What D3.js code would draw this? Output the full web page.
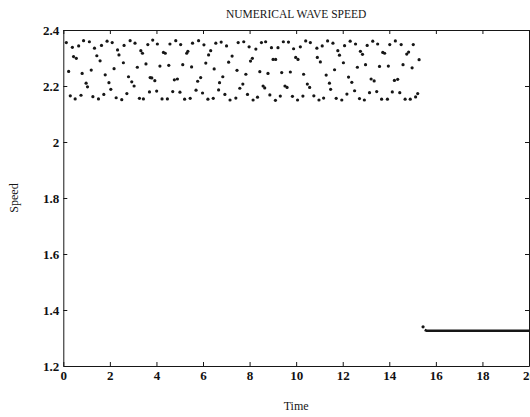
<!DOCTYPE html>
<html>
<head>
<meta charset="utf-8">
<script src="https://cdn.jsdelivr.net/npm/d3@7"></script>
<style>
  html, body { margin: 0; padding: 0; background: #fff; overflow: hidden; }
  svg { display: block; font-family: "Liberation Serif", "DejaVu Serif", serif; }
  .tick text { font-size: 13px; font-weight: bold; fill: #111; }
</style>
</head>
<body>
<div id="chart"></div>
<script>
// tick values on each axis
const xTicks = [0, 2, 4, 6, 8, 10, 12, 14, 16, 18, 20];
const yTicks = [1.2, 1.4, 1.6, 1.8, 2, 2.2, 2.4];

// [time, speed] samples while the numerical speed oscillates
const oscillation = [
  [0.13, 2.355], [0.23, 2.252], [0.30, 2.165], [0.39, 2.338], [0.44, 2.305], [0.51, 2.154],
  [0.56, 2.299], [0.66, 2.343], [0.76, 2.167], [0.81, 2.245], [0.87, 2.362], [0.98, 2.210],
  [1.04, 2.197], [1.12, 2.358], [1.20, 2.257], [1.27, 2.162], [1.34, 2.335], [1.44, 2.308],
  [1.51, 2.154], [1.58, 2.290], [1.64, 2.345], [1.74, 2.170], [1.80, 2.240], [1.88, 2.360],
  [1.96, 2.212], [2.04, 2.188], [2.10, 2.355], [2.18, 2.262], [2.27, 2.158], [2.33, 2.329],
  [2.39, 2.311], [2.51, 2.151], [2.58, 2.283], [2.61, 2.345], [2.73, 2.173], [2.80, 2.233],
  [2.87, 2.362], [2.94, 2.215], [3.04, 2.200], [3.08, 2.353], [3.18, 2.267], [3.27, 2.156],
  [3.33, 2.326], [3.40, 2.317], [3.44, 2.154], [3.55, 2.279], [3.63, 2.348], [3.70, 2.179],
  [3.73, 2.230], [3.80, 2.229], [3.84, 2.364], [3.93, 2.219], [4.01, 2.182], [4.04, 2.350],
  [4.15, 2.271], [4.24, 2.154], [4.30, 2.320], [4.38, 2.317], [4.47, 2.154], [4.53, 2.274],
  [4.58, 2.350], [4.70, 2.180], [4.77, 2.222], [4.83, 2.362], [4.90, 2.225], [5.01, 2.178],
  [5.04, 2.348], [5.13, 2.276], [5.21, 2.153], [5.30, 2.317], [5.35, 2.324], [5.45, 2.156],
  [5.51, 2.268], [5.55, 2.353], [5.70, 2.185], [5.77, 2.217], [5.81, 2.362], [5.90, 2.230],
  [5.98, 2.175], [6.04, 2.347], [6.12, 2.282], [6.21, 2.153], [6.24, 2.311], [6.33, 2.326],
  [6.44, 2.156], [6.48, 2.261], [6.55, 2.353], [6.67, 2.186], [6.71, 2.212], [6.78, 2.357],
  [6.85, 2.233], [6.94, 2.170], [7.01, 2.343], [7.10, 2.285], [7.16, 2.150], [7.25, 2.307],
  [7.41, 2.157], [7.46, 2.256], [7.51, 2.355], [7.58, 2.192], [7.71, 2.207], [7.75, 2.358],
  [7.84, 2.242], [7.91, 2.170], [7.98, 2.340], [8.04, 2.289], [8.12, 2.299], [8.15, 2.150],
  [8.27, 2.332], [8.34, 2.160], [8.44, 2.251], [8.51, 2.355], [8.58, 2.200], [8.65, 2.193],
  [8.69, 2.358], [8.79, 2.245], [8.87, 2.168], [8.94, 2.337], [9.01, 2.295], [9.11, 2.149],
  [9.12, 2.295], [9.22, 2.337], [9.32, 2.164], [9.38, 2.248], [9.45, 2.358], [9.52, 2.200],
  [9.61, 2.195], [9.67, 2.357], [9.75, 2.250], [9.84, 2.163], [9.89, 2.333], [9.98, 2.302],
  [10.06, 2.150], [10.08, 2.295], [10.18, 2.340], [10.29, 2.164], [10.32, 2.242], [10.41, 2.361],
  [10.48, 2.207], [10.58, 2.195], [10.61, 2.355], [10.76, 2.165], [10.89, 2.335], [10.91, 2.302],
  [10.98, 2.150], [11.04, 2.286], [11.12, 2.343], [11.18, 2.157], [11.29, 2.239], [11.35, 2.361],
  [11.43, 2.210], [11.48, 2.188], [11.58, 2.353], [11.65, 2.258], [11.72, 2.156], [11.79, 2.326],
  [11.86, 2.310], [11.96, 2.150], [12.03, 2.283], [12.08, 2.344], [12.18, 2.171], [12.25, 2.232],
  [12.32, 2.360], [12.39, 2.213], [12.51, 2.183], [12.55, 2.350], [12.63, 2.267], [12.72, 2.155],
  [12.76, 2.324], [12.85, 2.313], [12.93, 2.150], [12.98, 2.276], [13.05, 2.345], [13.15, 2.176],
  [13.22, 2.225], [13.29, 2.360], [13.35, 2.218], [13.46, 2.180], [13.50, 2.350], [13.58, 2.270],
  [13.67, 2.153], [13.72, 2.320], [13.80, 2.317], [13.92, 2.153], [13.96, 2.271], [14.02, 2.348],
  [14.13, 2.179], [14.22, 2.220], [14.26, 2.361], [14.36, 2.224], [14.45, 2.176], [14.51, 2.348],
  [14.59, 2.276], [14.68, 2.153], [14.75, 2.314], [14.83, 2.321], [14.90, 2.153], [14.98, 2.265],
  [15.03, 2.348], [15.13, 2.161], [15.22, 2.173], [15.28, 2.294]
];

// [time, speed] once the speed has settled
const settled = [[15.45, 1.340], [15.52, 1.329], [15.60, 1.326], [20, 1.326]];

const width = 530;
const height = 417;
const plot = { left: 63.3, right: 529, top: 30, bottom: 366 };
const serif = '"Liberation Serif", "DejaVu Serif", serif';

const x = d3.scaleLinear().domain([0, 20]).range([plot.left, plot.right]);
const y = d3.scaleLinear().domain([1.2, 2.4]).range([plot.bottom, plot.top]);
const ink = '#161616';

const svg = d3.select('#chart').append('svg').attr('width', width).attr('height', height);

svg.append('text')
  .attr('x', (plot.left + plot.right) / 2)
  .attr('y', 18)
  .attr('text-anchor', 'middle')
  .attr('font-size', 11.5)
  .attr('fill', ink)
  .text('NUMERICAL WAVE SPEED');

svg.append('g')
  .attr('transform', `translate(0,${plot.bottom})`)
  .call(d3.axisBottom(x).tickValues(xTicks).tickSize(-4).tickSizeOuter(0).tickPadding(5).tickFormat(String));
svg.append('g')
  .attr('transform', `translate(0,${plot.top})`)
  .call(d3.axisTop(x).tickValues(xTicks).tickSize(-4).tickSizeOuter(0).tickFormat(''));
svg.append('g')
  .attr('transform', `translate(${plot.left},0)`)
  .call(d3.axisLeft(y).tickValues(yTicks).tickSize(-4).tickSizeOuter(0).tickPadding(4).tickFormat(String));
svg.append('g')
  .attr('transform', `translate(${plot.right},0)`)
  .call(d3.axisRight(y).tickValues(yTicks).tickSize(-4).tickSizeOuter(0).tickFormat(''));

// axis groups come with a sans-serif font; the reference is set in Times
svg.selectAll('g').attr('font-family', serif);
svg.selectAll('.domain').attr('stroke', ink);
svg.selectAll('.tick line').attr('stroke', ink);

svg.append('text')
  .attr('x', (plot.left + plot.right) / 2)
  .attr('y', 410)
  .attr('text-anchor', 'middle')
  .attr('font-size', 12)
  .attr('fill', ink)
  .text('Time');

svg.append('text')
  .attr('transform', `translate(18,${(plot.top + plot.bottom) / 2}) rotate(-90)`)
  .attr('text-anchor', 'middle')
  .attr('font-size', 12)
  .attr('fill', ink)
  .text('Speed');

svg.append('g')
  .selectAll('circle')
  .data(oscillation)
  .join('circle')
  .attr('cx', (d) => x(d[0]))
  .attr('cy', (d) => y(d[1]))
  .attr('r', 1.6)
  .attr('fill', ink);

svg.append('path')
  .datum(settled.slice(1))
  .attr('fill', 'none')
  .attr('stroke', ink)
  .attr('stroke-width', 2.6)
  .attr('d', d3.line().x((d) => x(d[0])).y((d) => y(d[1])));

svg.append('circle')
  .attr('cx', x(settled[0][0]))
  .attr('cy', y(settled[0][1]))
  .attr('r', 1.6)
  .attr('fill', ink);
</script>
</body>
</html>
